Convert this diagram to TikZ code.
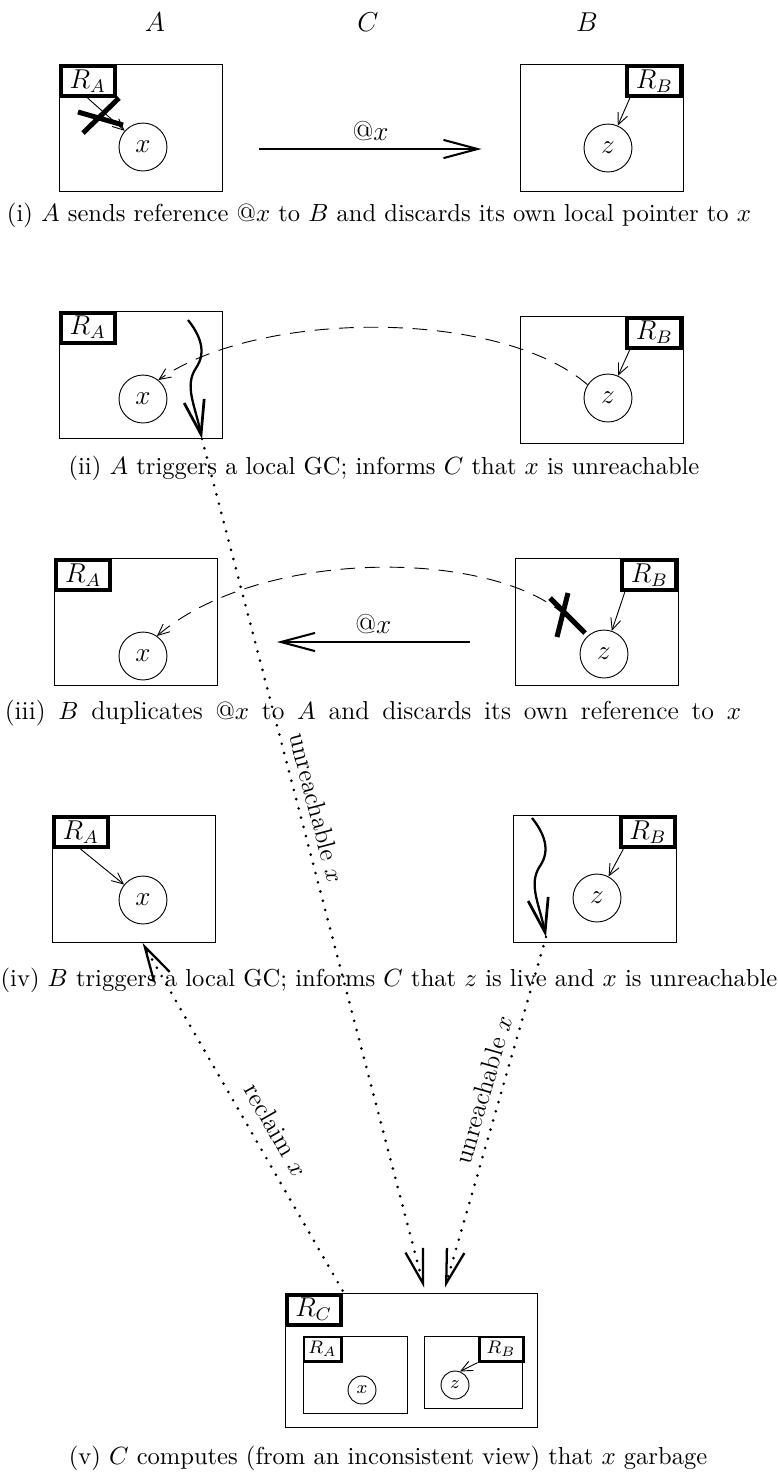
\documentclass[tikz,border=0pt]{standalone}
\usepackage{tikz}
\usetikzlibrary{positioning, arrows.meta}

\begin{document}
\begin{tikzpicture}[x=0.44pt, y=-0.44pt,
    site/.style={draw, minimum width=71.7pt, minimum height=55.9pt, inner sep=0pt},
    root/.style={draw, fill=white, line width=1.8pt, minimum width=23.8pt, minimum height=13.2pt, inner sep=0pt, font=\large},
    obj/.style={draw, circle, minimum size=21.1pt, inner sep=0pt, font=\large},
    isite/.style={draw, minimum width=45.8pt, minimum height=33.9pt, inner sep=0pt},
    iroot/.style={draw, fill=white, line width=1.3pt, minimum width=16.3pt, minimum height=10.6pt, inner sep=0pt, font=\footnotesize},
    iobj/.style={draw, circle, minimum size=12.3pt, inner sep=0pt, font=\footnotesize},
    site name/.style={font=\fontsize{13}{15}\selectfont},
    caption/.style={font=\fontsize{10.8}{13}\selectfont},
    msg label/.style={midway, above, font=\large},
    note label/.style={sloped, above, font=\fontsize{11.3}{13}\selectfont},
    ptr/.style={-{Straight Barb[length=5pt, width=4.5pt]}},
    remote/.style={ptr, dash pattern=on 6.5pt off 4.3pt},
    msg/.style={line width=0.9pt, -{Straight Barb[length=15pt, width=8pt, line width=0.9pt]}},
    gcarrow/.style={line width=1pt, -{Straight Barb[length=15pt, width=9pt, line width=1.2pt]}},
    note/.style={line width=1.3pt, line cap=round, dash pattern=on 0pt off 4.2pt,
        -{Straight Barb[length=15pt, width=8pt, line width=1pt]}},
    cross/.style={line width=2.2pt}
]
    \useasboundingbox (0,0) rectangle (778,1482);

    % Sites
    \node[site name] (hA) at (155,22) {$A$};
    \node[site name] (hC) at (368,22) {$C$};
    \node[site name] (hB) at (587,22) {$B$};

    % (i) A sends @x to B
    \node[site] (a1) at (140.5,128) {};
    \node[root, anchor=north west] (ra1) at (a1.north west) {$R_A$};
    \node[obj] (x1) at (143,147) {$x$};
    \node[site] (b1) at (601.5,128) {};
    \node[root, anchor=north east] (rb1) at (b1.north east) {$R_B$};
    \node[obj] (z1) at (608,148) {$z$};
    \draw[ptr] (ra1.south) -- (x1);
    \draw[ptr] ([xshift=2pt]rb1.south west) -- (z1);
    \draw[cross] (78,112) -- (123,125) (119,98) -- (83,133);
    \draw[msg] ([shift={(37,21)}]a1.east) -- ([shift={(-38,21)}]b1.west) node[msg label] {$@x$};
    \node[caption] (capi) at (379,215) {(i) $A$ sends reference $@x$ to $B$ and discards its own local pointer to $x$};

    % (ii) local GC at A
    \node[site] (a2) at (140.5,374.5) {};
    \node[root, anchor=north west] (ra2) at (a2.north west) {$R_A$};
    \node[obj] (x2) at (143,399) {$x$};
    \node[site] (b2) at (601.5,379.5) {};
    \node[root, anchor=north east] (rb2) at (b2.north east) {$R_B$};
    \node[obj] (z2) at (608,398) {$z$};
    \draw[ptr] ([xshift=2pt]rb2.south west) -- (z2);
    \draw[remote] (z2.147) .. controls (500,309) and (260,309) .. (x2.51);
    \coordinate (gc2a) at (188,320);
    \coordinate (gc2b) at (202,439);
    \draw[gcarrow] (gc2a) .. controls (200,335) and (207,352) .. (196,368) .. controls (184,386) and (195,405) .. (gc2b);
    \node[caption] (capii) at (384,468) {(ii) $A$ triggers a local GC; informs $C$ that $x$ is unreachable};

    % (iii) B duplicates @x to A
    \node[site] (a3) at (136,622) {};
    \node[root, anchor=north west] (ra3) at (a3.north west) {$R_A$};
    \node[obj] (x3) at (143,656) {$x$};
    \node[site] (b3) at (596.5,622) {};
    \node[root, anchor=north east] (rb3) at (b3.north east) {$R_B$};
    \node[obj] (z3) at (604,654) {$z$};
    \draw[ptr] ([xshift=2pt]rb3.south west) -- (z3);
    \coordinate (cut3) at (566,616);
    \draw[remote] (cut3) .. controls (490,548) and (260,548) .. (x3.55);
    \draw[cross] (568,593) -- (557,637) (550,598) -- (585,633);
    \draw[msg] ([shift={(-45,20)}]b3.west) -- ([shift={(59,20)}]a3.east) node[msg label] {$@x$};
    \node[caption, font=\fontsize{11.4}{13}\selectfont] (capiii) at (373,713) {\makebox[324pt][s]{(iii) $B$ duplicates $@x$ to $A$ and discards its own reference to $x$}};

    % (iv) local GC at B
    \node[site] (a4) at (133.5,879) {};
    \node[root, anchor=north west] (ra4) at (a4.north west) {$R_A$};
    \node[obj] (x4) at (143,900) {$x$};
    \node[site] (b4) at (595,879) {};
    \node[root, anchor=north east] (rb4) at (b4.north east) {$R_B$};
    \node[obj] (z4) at (597,898) {$z$};
    \draw[ptr] (ra4.south) -- (x4);
    \draw[ptr] ([xshift=2pt]rb4.south west) -- (z4);
    \coordinate (gc4a) at (532,818);
    \coordinate (gc4b) at (546,937);
    \draw[gcarrow] (gc4a) .. controls (544,833) and (551,850) .. (540,866) .. controls (528,884) and (539,903) .. (gc4b);
    \node[caption] (capiv) at (389,980) {(iv) $B$ triggers a local GC; informs $C$ that $z$ is live and $x$ is unreachable};

    % (v) C computes a global view
    \node[site, minimum width=110.9pt, minimum height=59pt] (c5) at (411,1360) {};
    \node[root, anchor=north west] (rc5) at (c5.north west) {$R_C$};
    \node[isite] (a5) at (355,1374.5) {};
    \node[iroot, anchor=north west] (ra5) at (a5.north west) {$R_A$};
    \node[iobj] (x5) at (362,1390) {$x$};
    \node[isite, minimum width=43.1pt, minimum height=31.7pt] (b5) at (473,1372) {};
    \node[iroot, minimum width=19.4pt, anchor=north east] (rb5) at ([xshift=1pt]b5.north east) {$R_B$};
    \node[iobj] (z5) at (455,1385) {$z$};
    \draw[ptr] (rb5.south west) -- (z5.70);
    \node[caption] (capv) at (388,1458) {(v) $C$ computes (from an inconsistent view) that $x$ garbage};

    % Messages to and from C
    \draw[note] (gc2b) -- ([shift={(13,-5)}]c5.north) node[note label, pos=0.44] {unreachable $x$};
    \draw[note] (gc4b) -- ([shift={(34,-5)}]c5.north) node[note label, pos=0.45] {unreachable $x$};
    \draw[note] ([shift={(58,-2)}]c5.north west) -- ([xshift=4pt]a4.south) node[note label, pos=0.43, above=2pt] {reclaim $x$};
\end{tikzpicture}
\end{document}
